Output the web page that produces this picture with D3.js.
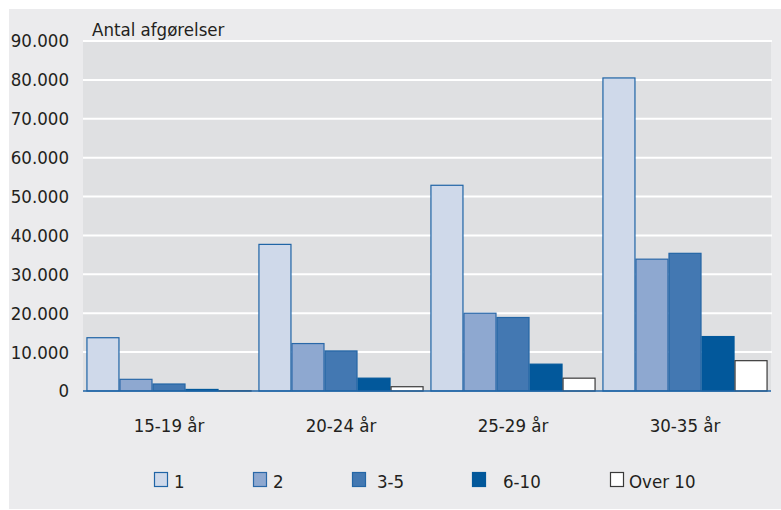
<!DOCTYPE html>
<html>
<head>
<meta charset="utf-8">
<script src="https://cdn.jsdelivr.net/npm/d3@7"></script>
<style>
  body { margin: 0; background: #fff; }
  svg text { font-family: "DejaVu Sans Condensed", "Open Sans", sans-serif; fill: #231f20; }
</style>
</head>
<body>
<svg id="chart" width="781" height="510"></svg>
<script>
// age groups along the x axis
var categories = ['15-19 år', '20-24 år', '25-29 år', '30-35 år'];
// number of decisions per person, one series each
var seriesNames = ['1', '2', '3-5', '6-10', 'Over 10'];
var s1 = [13700, 37700, 52900, 80500];
var s2 = [3000, 12200, 20000, 33900];
var s3 = [1800, 10300, 18900, 35400];
var s4 = [400, 3300, 6900, 14000];
var s5 = [50, 1100, 3300, 7800];
var yTicks = [0, 10000, 20000, 30000, 40000, 50000, 60000, 70000, 80000, 90000];
var yTitle = 'Antal afgørelser';

var fills = ['#cfd9ea', '#8ea8d0', '#4378b2', '#02589b', '#ffffff'],
    strokes = ['#1f64a6', '#2a68a8', '#2466a6', '#02589b', '#3a3a3a'],
    values = [s1, s2, s3, s4, s5];

var svg = d3.select('#chart'),
    plotLeft = 83, plotRight = 771, plotTop = 41, plotBottom = 391,
    fontFamily = '"DejaVu Sans Condensed", "Open Sans", sans-serif',
    fontSize = 18.5;

// outer panel
svg.append('rect')
    .attr('x', 9).attr('y', 9)
    .attr('width', 772).attr('height', 500)
    .attr('fill', '#ebebed');

var x = d3.scaleBand().domain(categories).range([plotLeft, plotRight]).paddingInner(0.04).paddingOuter(0.02),
    xi = d3.scaleBand().domain(seriesNames).range([0, x.bandwidth()]),
    y = d3.scaleLinear().domain([0, 90000]).range([plotBottom, plotTop]);

svg.append('rect')
    .attr('x', plotLeft).attr('y', plotTop)
    .attr('width', plotRight - plotLeft).attr('height', plotBottom - plotTop)
    .attr('fill', '#dfe0e2');

// gridlines
svg.append('g').selectAll('line')
    .data(yTicks.filter(function (d) { return d > 0; }))
    .join('line')
    .attr('x1', plotLeft).attr('x2', plotRight + 1)
    .attr('y1', function (d) { return y(d); })
    .attr('y2', function (d) { return y(d); })
    .attr('stroke', '#ffffff').attr('stroke-width', 2);

// y axis labels
var fmt = function (d) { return d3.format(',')(d).replace(/,/g, '.'); };
var yAxis = svg.append('g')
    .attr('transform', 'translate(' + plotLeft + ',0)')
    .call(d3.axisLeft(y).tickValues(yTicks).tickFormat(fmt).tickSize(0).tickPadding(14));
yAxis.select('.domain').remove();
yAxis.selectAll('text')
    .attr('font-size', fontSize)
    .attr('font-family', fontFamily)
    .attr('fill', '#231f20');

svg.append('text')
    .attr('x', 92).attr('y', 36)
    .attr('font-size', fontSize)
    .text(yTitle);

// bars
var groups = svg.append('g').selectAll('g')
    .data(categories)
    .join('g')
    .attr('transform', function (d) { return 'translate(' + x(d) + ',0)'; });

groups.selectAll('rect')
    .data(function (c, ci) {
        return seriesNames.map(function (s, si) { return {s: s, si: si, v: values[si][ci]}; });
    })
    .join('rect')
    .attr('x', function (d) { return xi(d.s) + 0.5; })
    .attr('y', function (d) { return y(d.v); })
    .attr('width', xi.bandwidth() - 1)
    .attr('height', function (d) { return plotBottom - y(d.v); })
    .attr('fill', function (d) { return fills[d.si]; })
    .attr('stroke', function (d) { return strokes[d.si]; })
    .attr('stroke-width', 1.2);

// baseline
svg.append('line')
    .attr('x1', plotLeft).attr('x2', plotRight)
    .attr('y1', plotBottom).attr('y2', plotBottom)
    .attr('stroke', '#1f64a6').attr('stroke-width', 1.5);

// category labels
var xAxis = svg.append('g')
    .attr('transform', 'translate(0,' + plotBottom + ')')
    .call(d3.axisBottom(x).tickSize(0).tickPadding(28));
xAxis.select('.domain').remove();
xAxis.selectAll('text')
    .attr('font-size', fontSize)
    .attr('font-family', fontFamily)
    .attr('fill', '#231f20');

// legend
var legendX = [154, 253, 352, 472, 610],
    legendGap = [20, 20, 25, 31, 19];
var leg = svg.append('g').selectAll('g')
    .data(seriesNames)
    .join('g')
    .attr('transform', function (d, i) { return 'translate(' + legendX[i] + ',472)'; });
leg.append('rect')
    .attr('x', 0.5).attr('y', 0.5)
    .attr('width', 13).attr('height', 14)
    .attr('fill', function (d, i) { return fills[i]; })
    .attr('stroke', function (d, i) { return strokes[i]; })
    .attr('stroke-width', 1.2);
leg.append('text')
    .attr('x', function (d, i) { return legendGap[i]; })
    .attr('y', 16)
    .attr('font-size', fontSize)
    .text(function (d) { return d; });
</script>
</body>
</html>
